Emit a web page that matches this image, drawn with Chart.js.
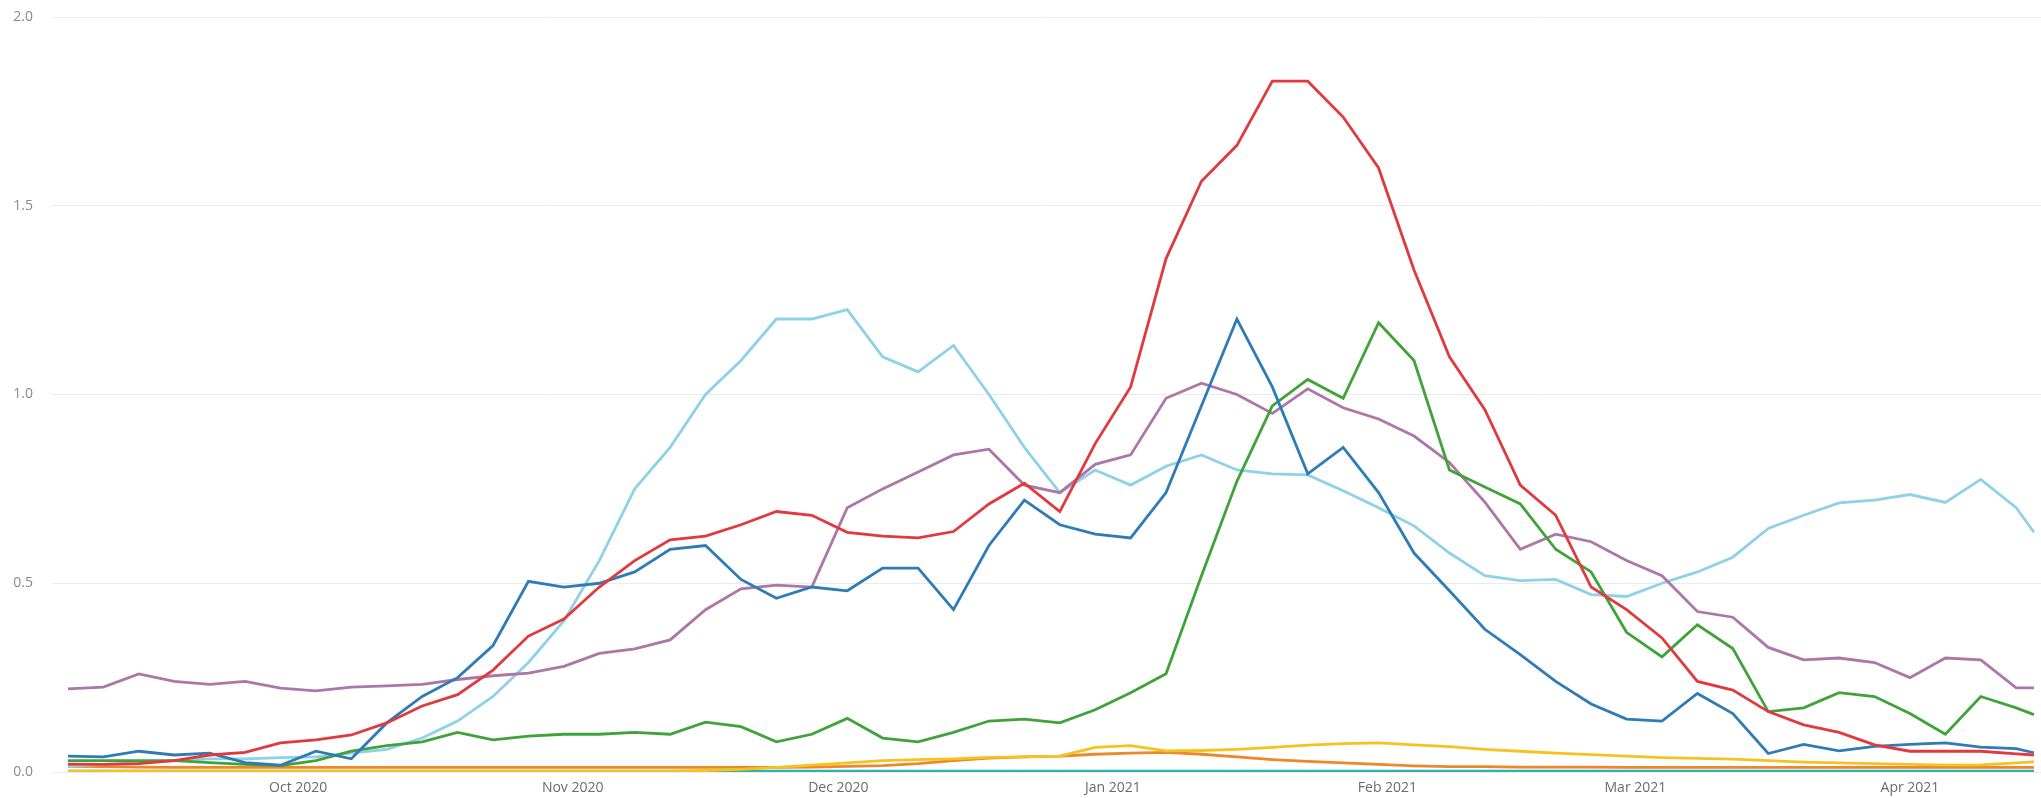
<!DOCTYPE html>
<html>
<head>
<meta charset="utf-8">
<script src="https://cdn.jsdelivr.net/npm/chart.js@4.4.0/dist/chart.umd.min.js"></script>
<style>
  html, body { margin: 0; padding: 0; background: #fff; }
  #wrap { width: 2041px; height: 798px; position: relative; }
</style>
</head>
<body>
<div id="wrap"><canvas id="chart"></canvas></div>
<script>
// days since 1 Sep 2020
const days = [4, 8, 12, 16, 20, 24, 28, 32, 36, 40, 44, 48, 52, 56, 60, 64, 68, 72, 76, 80,
  84, 88, 92, 96, 100, 104, 108, 112, 116, 120, 124, 128, 132, 136, 140, 144, 148, 152, 156, 160,
  164, 168, 172, 176, 180, 184, 188, 192, 196, 200, 204, 208, 212, 216, 220, 224, 226];

const monthDays = [30, 61, 91, 122, 153, 181, 212];
const monthLabels = ["Oct 2020", "Nov 2020", "Dec 2020", "Jan 2021", "Feb 2021", "Mar 2021", "Apr 2021"];
const yTicks = [0, 0.5, 1.0, 1.5, 2.0];

const purple = [0.22, 0.225, 0.26, 0.24, 0.232, 0.24, 0.222, 0.215, 0.225, 0.228, 0.232, 0.245, 0.255, 0.262, 0.28, 0.314, 0.326, 0.35, 0.43, 0.485,
  0.495, 0.49, 0.7, 0.75, 0.795, 0.84, 0.855, 0.76, 0.74, 0.815, 0.84, 0.99, 1.03, 1.0, 0.95, 1.015, 0.965, 0.935, 0.89, 0.82,
  0.715, 0.59, 0.63, 0.61, 0.56, 0.52, 0.425, 0.41, 0.33, 0.297, 0.302, 0.29, 0.25, 0.302, 0.297, 0.223, 0.223];

const red = [0.021, 0.02, 0.022, 0.03, 0.045, 0.052, 0.077, 0.085, 0.098, 0.13, 0.175, 0.205, 0.27, 0.36, 0.405, 0.49, 0.56, 0.615, 0.625, 0.655,
  0.69, 0.68, 0.635, 0.625, 0.62, 0.637, 0.71, 0.765, 0.69, 0.87, 1.02, 1.36, 1.565, 1.66, 1.83, 1.83, 1.735, 1.6, 1.33, 1.1,
  0.96, 0.76, 0.68, 0.49, 0.43, 0.355, 0.24, 0.217, 0.16, 0.125, 0.105, 0.072, 0.055, 0.055, 0.055, 0.048, 0.045];

const blue = [0.042, 0.04, 0.055, 0.045, 0.05, 0.025, 0.018, 0.055, 0.035, 0.13, 0.2, 0.25, 0.335, 0.505, 0.49, 0.5, 0.53, 0.59, 0.6, 0.51,
  0.46, 0.49, 0.48, 0.54, 0.54, 0.43, 0.6, 0.72, 0.655, 0.63, 0.62, 0.74, 0.97, 1.2, 1.02, 0.79, 0.86, 0.74, 0.58, 0.48,
  0.378, 0.311, 0.24, 0.18, 0.14, 0.135, 0.208, 0.155, 0.049, 0.073, 0.056, 0.068, 0.073, 0.077, 0.066, 0.062, 0.051];

const lightBlue = [0.015, 0.02, 0.025, 0.03, 0.035, 0.035, 0.038, 0.04, 0.05, 0.06, 0.09, 0.135, 0.2, 0.29, 0.4, 0.56, 0.75, 0.86, 1.0, 1.09,
  1.2, 1.2, 1.225, 1.1, 1.06, 1.13, 1.0, 0.86, 0.74, 0.8, 0.76, 0.81, 0.84, 0.8, 0.79, 0.787, 0.745, 0.7, 0.652, 0.58,
  0.52, 0.507, 0.51, 0.47, 0.465, 0.5, 0.53, 0.569, 0.645, 0.68, 0.713, 0.72, 0.735, 0.714, 0.775, 0.7, 0.635];

const green = [0.03, 0.03, 0.03, 0.03, 0.025, 0.02, 0.017, 0.03, 0.055, 0.07, 0.08, 0.105, 0.085, 0.095, 0.1, 0.1, 0.105, 0.1, 0.132, 0.12,
  0.08, 0.1, 0.142, 0.09, 0.08, 0.105, 0.135, 0.14, 0.13, 0.165, 0.21, 0.26, 0.52, 0.77, 0.97, 1.04, 0.99, 1.19, 1.09, 0.8,
  0.755, 0.71, 0.59, 0.53, 0.37, 0.305, 0.39, 0.327, 0.16, 0.17, 0.21, 0.2, 0.155, 0.1, 0.2, 0.17, 0.152];

const yellow = [0.002, 0.002, 0.002, 0.002, 0.002, 0.002, 0.002, 0.002, 0.002, 0.002, 0.002, 0.002, 0.002, 0.002, 0.002, 0.002, 0.002, 0.002, 0.004, 0.007,
  0.012, 0.018, 0.024, 0.03, 0.033, 0.035, 0.039, 0.04, 0.042, 0.065, 0.07, 0.056, 0.057, 0.06, 0.065, 0.071, 0.075, 0.077, 0.072, 0.067,
  0.06, 0.055, 0.05, 0.046, 0.042, 0.038, 0.036, 0.034, 0.03, 0.026, 0.024, 0.022, 0.02, 0.018, 0.019, 0.024, 0.027];

const orange = [0.015, 0.014, 0.013, 0.012, 0.012, 0.012, 0.012, 0.012, 0.012, 0.012, 0.012, 0.012, 0.012, 0.012, 0.012, 0.012, 0.012, 0.012, 0.012, 0.012,
  0.012, 0.013, 0.015, 0.017, 0.022, 0.03, 0.037, 0.04, 0.042, 0.047, 0.05, 0.052, 0.047, 0.04, 0.033, 0.028, 0.024, 0.02, 0.016, 0.014,
  0.014, 0.013, 0.013, 0.013, 0.012, 0.012, 0.012, 0.012, 0.012, 0.012, 0.012, 0.012, 0.012, 0.012, 0.012, 0.012, 0.012];

const teal = [0.002, 0.002, 0.002, 0.002, 0.002, 0.002, 0.002, 0.002, 0.002, 0.002, 0.002, 0.002, 0.002, 0.002, 0.002, 0.002, 0.002, 0.002, 0.002, 0.002,
  0.002, 0.002, 0.002, 0.002, 0.002, 0.002, 0.002, 0.002, 0.002, 0.002, 0.002, 0.002, 0.002, 0.002, 0.002, 0.002, 0.002, 0.002, 0.002, 0.002,
  0.002, 0.002, 0.002, 0.002, 0.002, 0.002, 0.002, 0.002, 0.002, 0.002, 0.002, 0.002, 0.002, 0.002, 0.002, 0.002, 0.002];

function series(values, color) {
  return {
    data: values.map((v, i) => ({ x: days[i], y: v })),
    borderColor: color,
    backgroundColor: color,
    borderWidth: 2.8,
    pointRadius: 0,
    tension: 0,
    fill: false
  };
}

// first dataset is drawn on top
const datasets = [
  series(red, "#e0393e"),
  series(blue, "#2e7bb6"),
  series(green, "#40a23a"),
  series(purple, "#ad76a8"),
  series(lightBlue, "#8fd1e6"),
  series(yellow, "#f5c320"),
  series(orange, "#f0862a"),
  series(teal, "#2ab3b0")
];

const ctx = document.getElementById("chart");
new Chart(ctx, {
  type: "line",
  data: { datasets },
  options: {
    responsive: true,
    maintainAspectRatio: false,
    animation: false,
    devicePixelRatio: 1,
    layout: { padding: { left: 0, right: 0, top: 17, bottom: 0 } },
    plugins: { legend: { display: false }, tooltip: { enabled: false } },
    scales: {
      x: {
        type: "linear",
        min: 2.2,
        max: 226.8,
        grid: { display: false, drawTicks: false },
        border: { display: false },
        afterBuildTicks: (scale) => {
          scale.ticks = monthDays.map(v => ({ value: v }));
        },
        afterFit: (scale) => {
          scale.height = 26;
          scale.paddingLeft = 0;
          scale.paddingRight = 0;
        },
        ticks: {
          autoSkip: false,
          maxRotation: 0,
          padding: 8,
          color: "#6b6b6b",
          font: { family: "'Segoe UI', 'Open Sans', sans-serif", size: 14 },
          callback: (value) => monthLabels[monthDays.indexOf(value)]
        }
      },
      y: {
        min: 0,
        max: 2.0,
        grid: { color: "#ebebeb", lineWidth: 1, drawTicks: false },
        border: { display: false },
        afterBuildTicks: (scale) => {
          scale.ticks = yTicks.map(v => ({ value: v }));
        },
        afterFit: (scale) => {
          scale.width = 52;
          scale.paddingTop = 0;
          scale.paddingBottom = 0;
        },
        ticks: {
          padding: 19,
          color: "#8a8a8a",
          font: { family: "'Segoe UI', 'Open Sans', sans-serif", size: 14 },
          callback: (value) => value.toFixed(1)
        }
      }
    }
  }
});
</script>
</body>
</html>
